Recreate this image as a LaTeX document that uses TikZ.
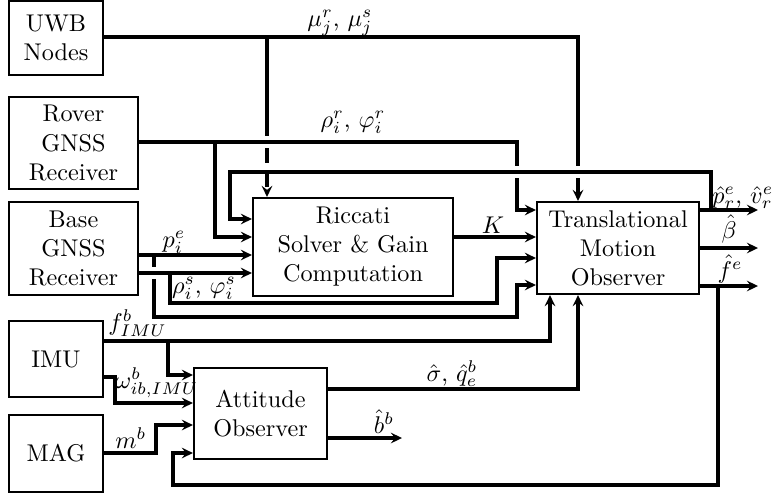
\documentclass[tikz,border=0pt]{standalone}
\usetikzlibrary{calc,arrows.meta}
\def\pxu{0.413pt}
\begin{document}
\begin{tikzpicture}[x=0.413pt,y=-0.413pt,
  box/.style={draw,line width=0.9pt,align=center,inner sep=0pt},
  conn/.style={line width=1.35pt},
  arr/.style={conn,-{Stealth[length=4.6pt,width=4.4pt,inset=1.7pt]}},
  halo/.style={preaction={draw=white,line width=4.6pt}},
  dashseg/.style={dash pattern=on 6.4pt off 3.6pt},
  lbl/.style={inner sep=0pt,anchor=base}]
\useasboundingbox (0,0) rectangle (772,494);

% ---------- boxes ----------
\node[box,minimum width=94*\pxu,minimum height=74*\pxu] (uwb) at (56,38) {UWB\\Nodes};
\node[box,minimum width=129*\pxu,minimum height=92*\pxu] (rover) at (73.5,143) {Rover\\GNSS\\Receiver};
\node[box,minimum width=129*\pxu,minimum height=93*\pxu] (base) at (73.5,248.5) {Base\\GNSS\\Receiver};
\node[box,minimum width=94*\pxu,minimum height=76*\pxu] (imu) at (56,359) {IMU};
\node[box,minimum width=94*\pxu,minimum height=77*\pxu] (mag) at (56,453.5) {MAG};
\node[box,minimum width=133*\pxu,minimum height=91*\pxu] (att) at (260.5,413.5) {Attitude\\Observer};
\node[box,minimum width=200*\pxu,minimum height=98*\pxu] (ric) at (353,247) {Riccati\\Solver \& Gain\\Computation};
\node[box,minimum width=162*\pxu,minimum height=92*\pxu] (tmo) at (618,248) {Translational\\Motion\\Observer};

% ---------- helper coordinates ----------
\coordinate (uwbk) at (578,37);
\coordinate (uwbb) at (267,37);
\coordinate (xrov) at (267,142);
\coordinate (dashStart) at (267,147);
\coordinate (rovk) at (517,210);
\coordinate (rovb) at (215,142);
\coordinate (fbStart) at (711,210);
\coordinate (fbTop) at (230,172);
\coordinate (xfb1) at (578,172);
\coordinate (xfb2) at (517,172);
\coordinate (pb) at (154,255);
\coordinate (pk) at (517,317);
\coordinate (rb) at (170,273);
\coordinate (rk) at (497,303);
\coordinate (xrho) at (154,273);
\coordinate (fimub) at (168,341);
\coordinate (wk) at (115,403);
\coordinate (mk) at (156,425);
\coordinate (feb) at (718,286);
\coordinate (feBot) at (173,485);
\coordinate (bhat) at (402,438);
\coordinate (outR) at (758,0);

% ---------- UWB ----------
\draw[arr] (uwb.east |- uwbk) -| (tmo.north -| uwbk);
\draw[conn] (uwbb) -- (xrov);
\draw[arr,dashseg] (dashStart) -- (ric.north -| uwbb);

% ---------- Rover ----------
\draw[arr] (rover.east |- xrov) -| (rovk) -- (tmo.west |- rovk);
\draw[conn,halo] ($(xrov)+(-8,0)$) -- ($(xrov)+(8,0)$);
\draw[arr] (rovb) |- (ric.west |- 0,237);

% ---------- feedback to Riccati ----------
\draw[arr] (fbStart) |- (fbTop) |- (ric.west |- 0,219);
\draw[conn,halo] ($(xfb1)+(-8,0)$) -- ($(xfb1)+(8,0)$);
\draw[conn,halo] ($(xfb2)+(-8,0)$) -- ($(xfb2)+(8,0)$);

% ---------- K ----------
\draw[arr] (ric.east |- 0,237) -- (tmo.west |- 0,237);

% ---------- Base ----------
\draw[arr] (base.east |- pb) -- (ric.west |- pb);
\draw[arr] (pb) |- (pk) |- (tmo.west |- 0,285);
\draw[arr] (base.east |- rb) -- (ric.west |- rb);
\draw[conn,halo] ($(xrho)+(-8,0)$) -- ($(xrho)+(8,0)$);
\draw[arr] (rb) |- (rk) |- (tmo.west |- 0,258);

% ---------- outputs ----------
\draw[arr] (tmo.east |- rovk) -- (outR |- rovk);
\draw[arr] (tmo.east) -- (outR |- tmo.east);
\draw[arr] (tmo.east |- feb) -- (outR |- feb);
\draw[arr] (feb) |- (feBot) |- (att.west |- 0,453);

% ---------- IMU / MAG ----------
\draw[arr] (imu.east |- fimub) -| (tmo.south -| 550,0);
\draw[arr] (fimub) |- (att.west |- 0,375);
\draw[arr] (imu.east |- 0,377) -| (wk) -- (att.west |- wk);
\draw[arr] (mag.east |- 0,453) -| (mk) -- (att.west |- mk);

% ---------- Attitude outputs ----------
\draw[arr] (att.east |- 0,389) -| (tmo.south -| uwbk);
\draw[arr] (att.east |- bhat) -- (bhat);

% ---------- labels ----------
\node[lbl] (lmu) at (340,26) {$\mu_j^r$, $\mu_j^s$};
\node[lbl] (lrho) at (353,127) {$\rho_i^r$, $\varphi_i^r$};
\node[lbl] (lp) at (174,247) {$p_i^e$};
\node[lbl] (lrhos) at (204,293) {$\rho_i^s$, $\varphi_i^s$};
\node[lbl] (lK) at (493,233) {$K$};
\node[lbl,anchor=base west] (lpv) at (712,203) {$\hat p_r^e$, $\hat v_r^e$};
\node[lbl] (lbeta) at (729,238) {$\hat\beta$};
\node[lbl] (lf) at (730,278) {$\hat f^e$};
\node[lbl,anchor=base west] (lfimu) at (108,330) {$f^b_{IMU}$};
\node[lbl,anchor=base west] (lw) at (115,388) {$\omega^b_{ib,IMU}$};
\node[lbl,anchor=base west] (lm) at (115,448) {$m^b$};
\node[lbl] (lsq) at (452,381) {$\hat\sigma$, $\hat q_e^b$};
\node[lbl] (lb) at (384,433) {$\hat b^b$};
\end{tikzpicture}
\end{document}
